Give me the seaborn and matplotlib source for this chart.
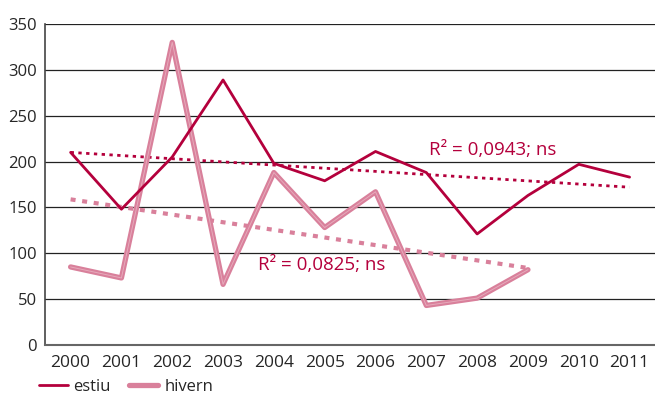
import numpy as np
import pandas as pd
import matplotlib
matplotlib.use("Agg")
import matplotlib.pyplot as plt
import seaborn as sns

years = [2000, 2001, 2002, 2003, 2004, 2005, 2006, 2007, 2008, 2009, 2010, 2011]
estiu = [210, 148, 205, 289, 198, 179, 211, 188, 121, 163, 197, 183]
hivern = [85, 73, 330, 66, 188, 128, 167, 43, 51, 82]
r2_labels = ["R² = 0,0943; ns", "R² = 0,0825; ns"]

dark = "#B4003C"
pink = "#D9809B"

sns.set_style("white")
plt.rcParams['font.family'] = ['Open Sans', 'DejaVu Sans']

fig = plt.figure(figsize=(6.55, 4.01), dpi=100)
ax = fig.add_axes([0.069, 0.14, 0.931, 0.80])

df = pd.DataFrame({
    "pos": list(range(len(estiu))) + list(range(len(hivern))),
    "val": estiu + hivern,
    "serie": ["estiu"] * len(estiu) + ["hivern"] * len(hivern),
})

sns.lineplot(data=df[df.serie == "hivern"], x="pos", y="val", color=pink,
             linewidth=3.8, ax=ax, label="hivern", zorder=3)
# light streak inside the thick winter line
ax.plot(range(len(hivern)), hivern, color="#E6AABB", lw=0.7, zorder=3.1)
sns.lineplot(data=df[df.serie == "estiu"], x="pos", y="val", color=dark,
             linewidth=2.0, ax=ax, label="estiu", zorder=4)

# linear trends
for vals, col, lw in [(estiu, dark, 2.0), (hivern, pink, 3.0)]:
    x = np.arange(len(vals))
    k, b = np.polyfit(x, vals, 1)
    ax.plot(x[[0, -1]], k * x[[0, -1]] + b, color=col, lw=lw,
            linestyle=(0, (1.2, 1.6)), zorder=2)

ax.text(8.3, 213, r2_labels[0], color=dark, fontsize=13.5, ha="center", va="center")
ax.text(4.94, 87, r2_labels[1], color=dark, fontsize=13.5, ha="center", va="center")

ax.set_xlim(-0.5, 11.5)
ax.set_ylim(0, 350)
ax.set_yticks(range(0, 351, 50))
ax.set_xticks(range(len(years)))
ax.set_xticklabels(years)
ax.set_xticks(np.arange(0.5, 11.5, 1), minor=True)
ax.yaxis.grid(True, color="#222222", linewidth=0.9)
ax.set_axisbelow(True)
ax.tick_params(axis="x", which="major", length=0, labelsize=12.5, pad=7)
ax.tick_params(axis="x", which="minor", length=2, width=1.2, direction="inout", color="black")
ax.tick_params(axis="y", length=3, width=1.2, labelsize=12, color="black", pad=3)
ax.set_xlabel("")
ax.set_ylabel("")
for s in ["top", "right"]:
    ax.spines[s].set_visible(False)
ax.spines["left"].set_color("#444444")
ax.spines["bottom"].set_color("#666666")
ax.spines["left"].set_linewidth(1.2)
ax.spines["bottom"].set_linewidth(1.5)

h, l = ax.get_legend_handles_labels()
h = [h[1], h[0]]
l = [l[1], l[0]]
ax.legend(h, l, loc="upper left", bbox_to_anchor=(-0.03, -0.07),
          ncol=2, frameon=False, fontsize=12, handlelength=1.75,
          columnspacing=1.1, handletextpad=0.35, borderpad=0.2)

fig.savefig("out.png", dpi=100)
